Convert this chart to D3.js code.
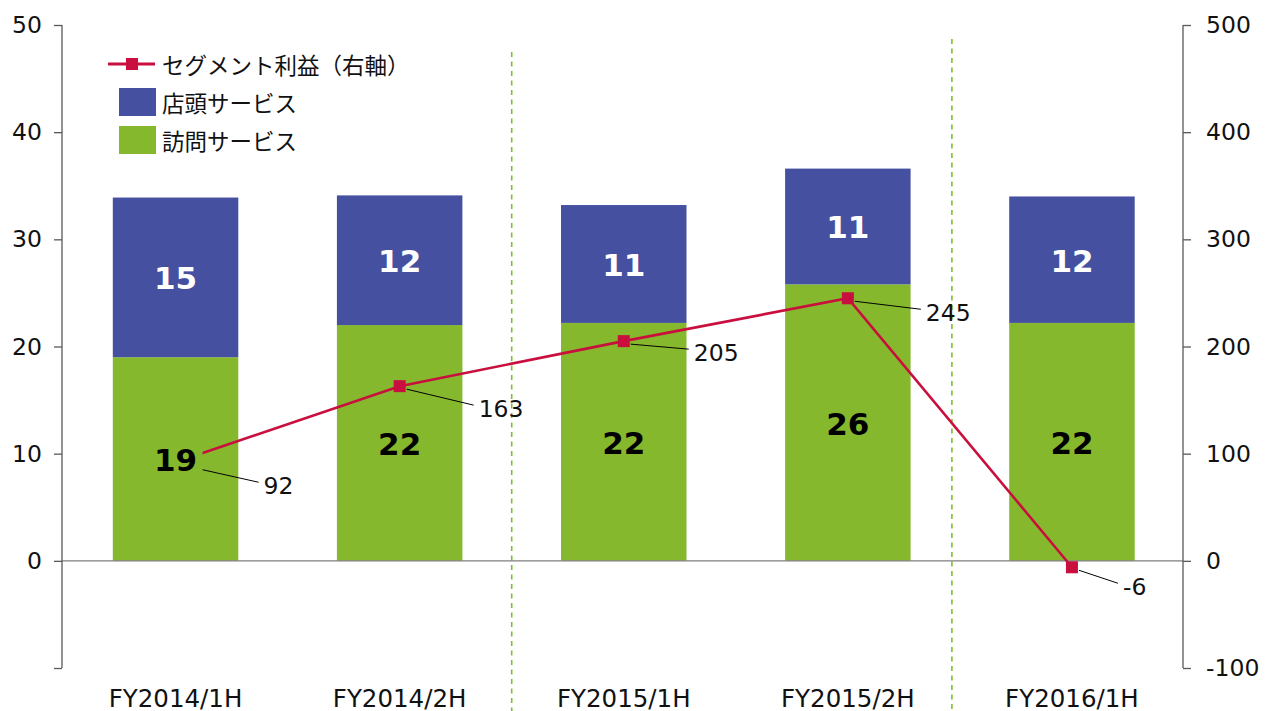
<!DOCTYPE html>
<html>
<head>
<meta charset="utf-8">
<script src="https://cdn.jsdelivr.net/npm/d3@7"></script>
<style>
  body { margin: 0; background: #fff; }
  svg { display: block; font-family: "DejaVu Sans", Verdana, "Noto Sans CJK JP", sans-serif; }
</style>
</head>
<body>
<svg id="chart" width="1266" height="711"></svg>
<script>
// data
const categories = ['FY2014/1H', 'FY2014/2H', 'FY2015/1H', 'FY2015/2H', 'FY2016/1H'];
const visitValues = [19.0, 22.0, 22.2, 25.8, 22.2];   // 訪問サービス (left axis)
const storeValues = [14.9, 12.1, 11.0, 10.8, 11.8];   // 店頭サービス (left axis)
const visitLabels = ['19', '22', '22', '26', '22'];
const storeLabels = ['15', '12', '11', '11', '12'];
const profitValues = [92, 163, 205, 245, -6];          // セグメント利益 (right axis)
const leftTicks = [-10, 0, 10, 20, 30, 40, 50];
const rightTicks = [-100, 0, 100, 200, 300, 400, 500];
const legendNames = ['セグメント利益（右軸）', '店頭サービス', '訪問サービス'];

// layout only
const labelOffsets = [[88, 24], [79, 23], [70, 12], [78, 15], [51, 20]];
const separators = [{ index: 2, shift: 0, top: 52 }, { index: 4, shift: -8, top: 39 }];

const GREEN = '#86b82d';
const BLUE = '#4551a0';
const RED = '#c80f3e';
const AXIS = '#595959';

function renderChart() {
  const svg = d3.select('#chart');
  const left = 62, right = 1183, top = 25, bottom = 668;

  const x = d3.scaleBand().domain(categories).range([left + 1.5, right + 1]).paddingInner(0.44).paddingOuter(0.22);
  const yL = d3.scaleLinear().domain([-10, 50]).range([bottom, top]);
  const yR = d3.scaleLinear().domain([-100, 500]).range([bottom, top]);
  const step = x.step();

  // dashed separators
  svg.append('g').selectAll('line').data(separators).enter().append('line')
    .attr('x1', d => x(categories[d.index]) - (step - x.bandwidth()) / 2 + d.shift)
    .attr('x2', d => x(categories[d.index]) - (step - x.bandwidth()) / 2 + d.shift)
    .attr('y1', d => d.top).attr('y2', 711)
    .attr('stroke', '#7dbf2a').attr('stroke-width', 1.6).attr('stroke-dasharray', '5 4.5');

  const rows = categories.map((c, i) => ({ c, i, visit: visitValues[i], store: storeValues[i] }));

  // stacked bars
  const bars = svg.append('g');
  bars.selectAll('rect.visit').data(rows).enter().append('rect')
    .attr('x', d => x(d.c)).attr('width', x.bandwidth())
    .attr('y', d => yL(d.visit)).attr('height', d => yL(0) - yL(d.visit))
    .attr('fill', GREEN);
  bars.selectAll('rect.store').data(rows).enter().append('rect')
    .attr('x', d => x(d.c)).attr('width', x.bandwidth())
    .attr('y', d => yL(d.visit + d.store)).attr('height', d => yL(d.visit) - yL(d.visit + d.store))
    .attr('fill', BLUE);

  // zero line
  svg.append('line').attr('x1', left).attr('x2', right).attr('y1', yL(0)).attr('y2', yL(0))
    .attr('stroke', '#7f7f7f').attr('stroke-width', 1.4);

  // left axis
  const axL = svg.append('g').attr('transform', `translate(${left},0)`)
    .call(d3.axisLeft(yL).tickValues(leftTicks).tickSize(8).tickPadding(12)
      .tickFormat(d => d < 0 ? '' : String(d)));
  // right axis
  const axR = svg.append('g').attr('transform', `translate(${right},0)`)
    .call(d3.axisRight(yR).tickValues(rightTicks).tickSize(8).tickPadding(15)
      .tickFormat(d => String(d)));
  [axL, axR].forEach(ax => {
    ax.select('.domain').attr('stroke', AXIS).attr('stroke-width', 1.3)
      .attr('d', `M0,${top}V${bottom}`);
    ax.selectAll('.tick line').attr('stroke', AXIS).attr('stroke-width', 1.3);
    ax.selectAll('.tick text').attr('font-size', 23.5).attr('fill', '#111')
      .attr('font-family', '"DejaVu Sans", Verdana, sans-serif');
  });

  // category labels
  svg.append('g').selectAll('text').data(categories).enter().append('text')
    .attr('x', d => x(d) + x.bandwidth() / 2).attr('y', 698)
    .attr('text-anchor', 'middle').attr('dominant-baseline', 'central')
    .attr('font-size', 24.5).attr('fill', '#111').text(d => d);

  // profit line
  const pts = profitValues.map((v, i) => [x(categories[i]) + x.bandwidth() / 2, yR(v)]);
  svg.append('path').datum(pts).attr('d', d3.line())
    .attr('fill', 'none').attr('stroke', RED).attr('stroke-width', 2.6);
  svg.append('g').selectAll('rect').data(pts).enter().append('rect')
    .attr('x', d => d[0] - 6).attr('y', d => d[1] - 6).attr('width', 12).attr('height', 12)
    .attr('fill', RED);

  // leader lines + profit labels
  const lab = svg.append('g');
  pts.forEach((p, i) => {
    const [dx, dy] = labelOffsets[i];
    lab.append('line')
      .attr('x1', p[0] + 7).attr('y1', p[1] + 3)
      .attr('x2', p[0] + dx - 5).attr('y2', p[1] + dy - 4)
      .attr('stroke', '#000').attr('stroke-width', 1);
    lab.append('text').attr('x', p[0] + dx).attr('y', p[1] + dy)
      .attr('dominant-baseline', 'central').attr('font-size', 23.5).attr('fill', '#111')
      .text(profitValues[i]);
  });

  // bar value labels (green labels carry a green box, hiding the first marker)
  const vl = svg.append('g').attr('font-weight', 'bold').attr('font-size', 31);
  vl.selectAll('rect').data(rows).enter().append('rect')
    .attr('x', d => x(d.c) + x.bandwidth() / 2 - 27).attr('width', 54)
    .attr('y', d => (yL(0) + yL(d.visit)) / 2 - 21).attr('height', 42)
    .attr('fill', GREEN);
  vl.selectAll('text.visit').data(rows).enter().append('text')
    .attr('x', d => x(d.c) + x.bandwidth() / 2).attr('y', d => (yL(0) + yL(d.visit)) / 2 + 1)
    .attr('text-anchor', 'middle').attr('dominant-baseline', 'central').attr('fill', '#000')
    .text(d => visitLabels[d.i]);
  vl.selectAll('text.store').data(rows).enter().append('text')
    .attr('x', d => x(d.c) + x.bandwidth() / 2)
    .attr('y', d => (yL(d.visit) + yL(d.visit + d.store)) / 2 + 1)
    .attr('text-anchor', 'middle').attr('dominant-baseline', 'central').attr('fill', '#fff')
    .text(d => storeLabels[d.i]);

  // legend
  const lg = svg.append('g').attr('font-family', '"Noto Sans CJK JP", sans-serif').attr('font-size', 22.5);
  lg.append('line').attr('x1', 108).attr('x2', 155).attr('y1', 64).attr('y2', 64)
    .attr('stroke', RED).attr('stroke-width', 3);
  lg.append('rect').attr('x', 126).attr('y', 58).attr('width', 12).attr('height', 12).attr('fill', RED);
  lg.append('rect').attr('x', 119).attr('y', 88).attr('width', 37).attr('height', 28).attr('fill', BLUE);
  lg.append('rect').attr('x', 119).attr('y', 126).attr('width', 37).attr('height', 28).attr('fill', GREEN);
  lg.selectAll('text').data(legendNames).enter().append('text')
    .attr('x', 162).attr('y', (d, i) => 64 + i * 38).attr('dominant-baseline', 'central')
    .attr('fill', '#111').text(d => d);
}

renderChart();
</script>
</body>
</html>
